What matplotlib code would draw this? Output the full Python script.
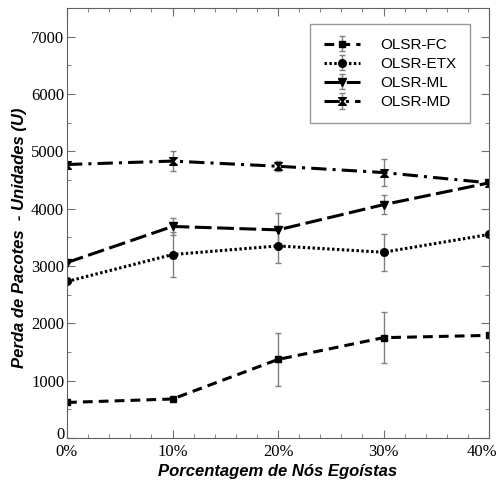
import matplotlib.pyplot as plt
from matplotlib.path import Path
from matplotlib.ticker import MultipleLocator
from matplotlib.transforms import ScaledTranslation

# Datos
porcentagens = [0, 10, 20, 30, 40]
x_rotulos = ['0%', '10%', '20%', '30%', '40%']

fc = [620, 680, 1370, 1750, 1790]
fc_err = [0, 40, 460, 440, 0]

etx = [2730, 3200, 3350, 3240, 3550]
etx_err = [0, 390, 290, 320, 0]

ml = [3060, 3690, 3630, 4070, 4450]
ml_err = [0, 150, 290, 170, 0]

md = [4770, 4830, 4740, 4630, 4450]
md_err = [0, 180, 90, 230, 0]

# Marcador tipo ampulheta para OLSR-MD
ampulheta = Path([(-1, 1), (1, 1), (0, 0), (1, -1), (-1, -1), (0, 0), (-1, 1)],
                 [Path.MOVETO, Path.LINETO, Path.LINETO, Path.LINETO,
                  Path.LINETO, Path.LINETO, Path.CLOSEPOLY])

series = [
    ('OLSR-FC', fc, fc_err, 's', (0, (3.2, 2)), 5),
    ('OLSR-ETX', etx, etx_err, 'o', (0, (0.8, 0.8)), 5.5),
    ('OLSR-ML', ml, ml_err, 'v', (0, (5.5, 1.8)), 5.5),
    ('OLSR-MD', md, md_err, ampulheta, (0, (5, 2, 1, 2)), 5.5),
]

fig = plt.figure(figsize=(4.97, 4.84), dpi=100)
ax = fig.add_axes([67 / 497, 1 - 438 / 484, (489 - 67) / 497, (438 - 8) / 484])

for nome, vals, errs, mk, ls, ms in series:
    ax.errorbar(porcentagens, vals, yerr=errs, color='black', ecolor='#808080',
                elinewidth=1, capsize=2.5, capthick=1, marker=mk, markersize=ms,
                linestyle=ls, linewidth=2.2, label=nome)

ax.set_xlim(0, 40)
ax.set_ylim(0, 7500)
ax.set_xticks(porcentagens)
ax.set_xticklabels(x_rotulos)
ax.set_yticks([0, 1000, 2000, 3000, 4000, 5000, 6000, 7000])
ax.xaxis.set_minor_locator(MultipleLocator(2))
ax.yaxis.set_minor_locator(MultipleLocator(500))

ax.tick_params(which='both', direction='in', top=True, right=True, color='#707070')
ax.tick_params(which='major', length=6)
ax.tick_params(which='minor', length=3)
for s in ax.spines.values():
    s.set_color('#606060')

for lbl in ax.get_xticklabels() + ax.get_yticklabels():
    lbl.set_family('Liberation Serif')
    lbl.set_fontsize(12)
ax.tick_params(axis='x', pad=4)
ax.tick_params(axis='y', pad=2)

# o rótulo 40% fica encostado na borda da figura
ultimo = ax.get_xticklabels()[-1]
ultimo.set_transform(ultimo.get_transform() + ScaledTranslation(-0.07, 0, fig.dpi_scale_trans))
# o "0" do eixo y sobe um pouco, acima do "0%"
zero = ax.get_yticklabels()[0]
zero.set_transform(zero.get_transform() + ScaledTranslation(0, 0.05, fig.dpi_scale_trans))

ax.set_xlabel('Porcentagem de Nós Egoístas', family='Liberation Sans',
              fontsize=12, fontweight='bold', style='italic', labelpad=3)
ax.set_ylabel('Perda de Pacotes  - Unidades (U)', family='Liberation Sans',
              fontsize=12, fontweight='bold', style='italic')
ax.yaxis.set_label_coords(-0.095, 0.465)

leg = ax.legend(loc='upper right', bbox_to_anchor=(0.955, 0.962), frameon=True,
                fancybox=False, prop={'family': 'Liberation Sans', 'size': 11},
                handlelength=2.4, labelspacing=0.33, borderpad=0.9, handletextpad=1.3,
                borderaxespad=0)
leg.get_frame().set_edgecolor('#808080')
leg.get_frame().set_linewidth(1)

fig.savefig('out.png', dpi=100)
